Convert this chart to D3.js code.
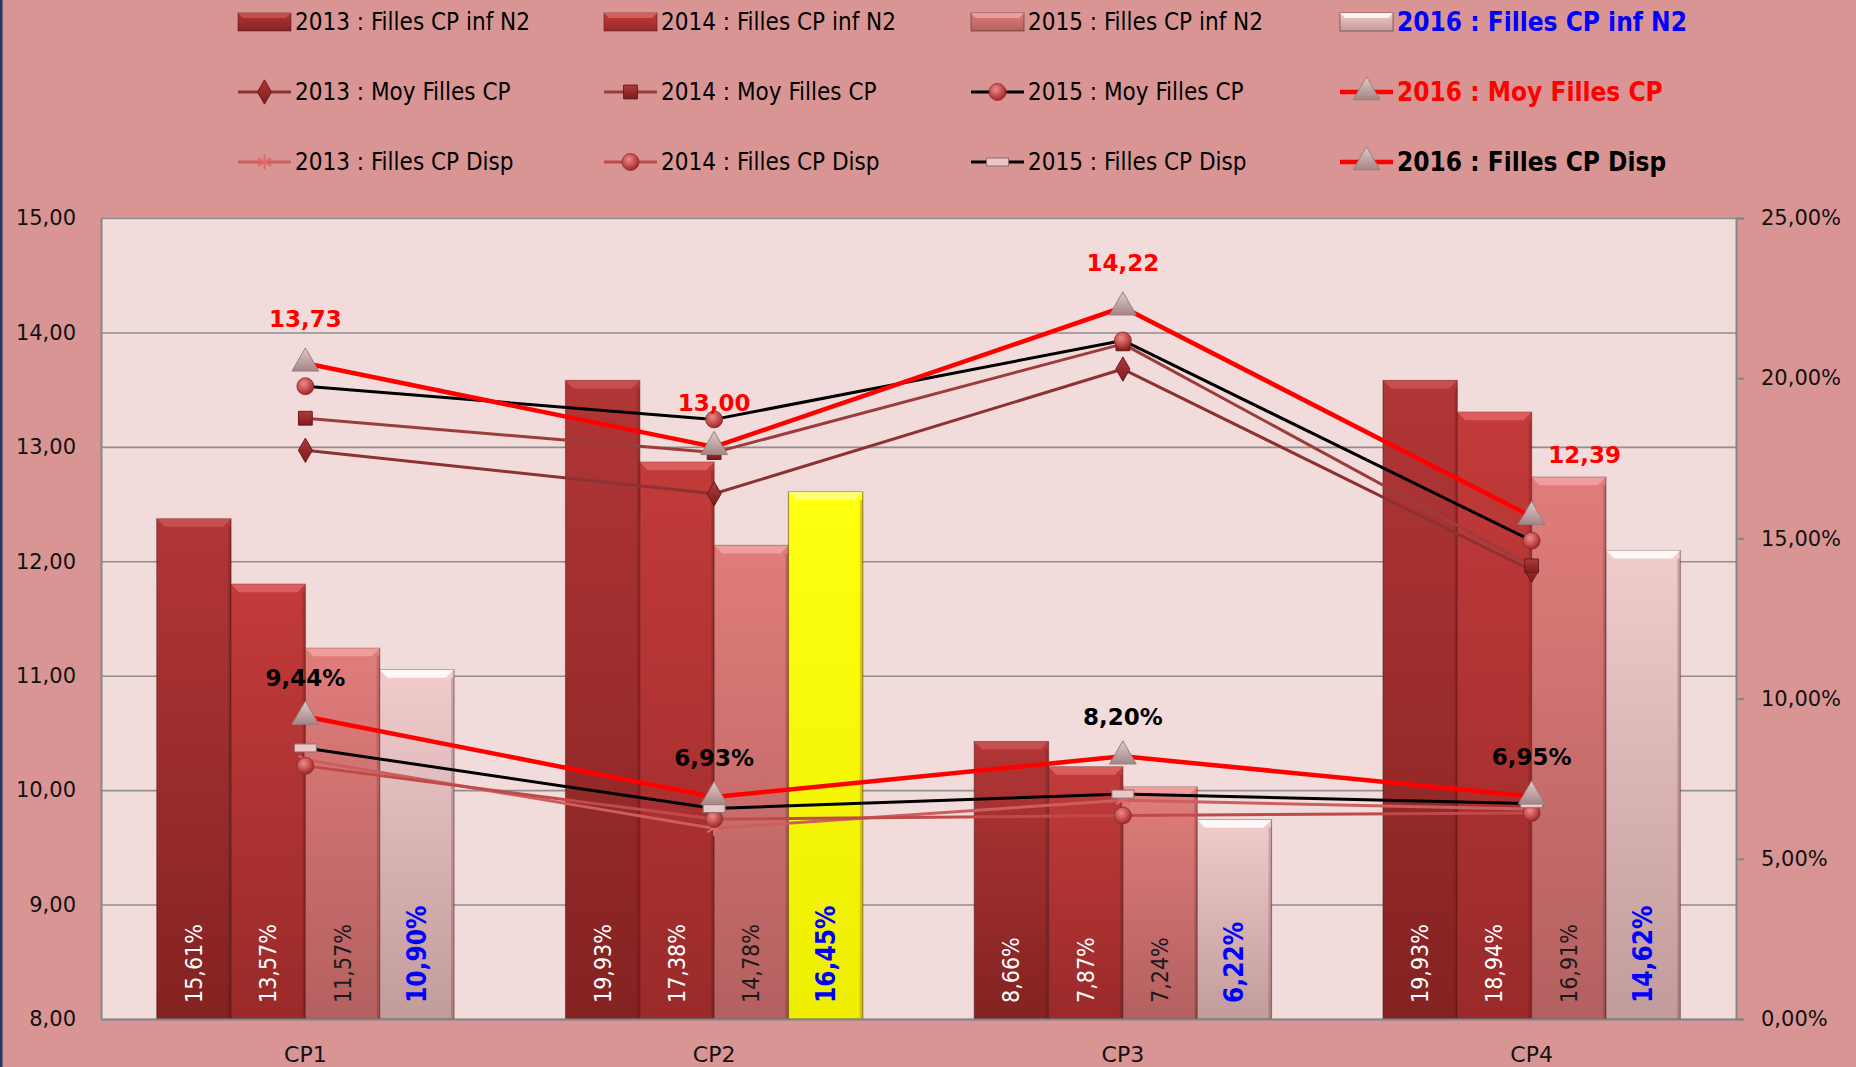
<!DOCTYPE html>
<html>
<head>
<meta charset="utf-8">
<script src="https://cdn.jsdelivr.net/npm/d3@7"></script>
<style>
  body { margin: 0; background: #d99594; overflow: hidden; }
  svg { display: block; }
</style>
</head>
<body>
<svg id="chart" width="1856" height="1067"></svg>
<script>
// ---- data ----
const categories = ["CP1", "CP2", "CP3", "CP4"];
const barYears = ["2013", "2014", "2015", "2016"];

// Filles CP inf N2 (right axis, %)
const infN2_2013 = [15.61, 19.93, 8.66, 19.93];
const infN2_2014 = [13.57, 17.38, 7.87, 18.94];
const infN2_2015 = [11.57, 14.78, 7.24, 16.91];
const infN2_2016 = [10.90, 16.45, 6.22, 14.62];

// Moy Filles CP (left axis)
const moy2013 = [12.97, 12.59, 13.68, 11.92];
const moy2014 = [13.25, 12.95, 13.90, 11.96];
const moy2015 = [13.53, 13.24, 13.93, 12.18];
const moy2016 = [13.73, 13.00, 14.22, 12.39];

// Filles CP Disp (right axis, %)
const disp2013 = [8.09, 5.95, 6.83, 6.55];
const disp2014 = [7.90, 6.24, 6.35, 6.43];
const disp2015 = [8.46, 6.57, 7.02, 6.72];
const disp2016 = [9.44, 6.93, 8.20, 6.95];

const leftTicks = [8, 9, 10, 11, 12, 13, 14, 15];
const rightTicks = [0, 5, 10, 15, 20, 25];

// ---- layout ----
const W = 1856, H = 1067;
const plot = { left: 101, right: 1736, top: 218, bottom: 1019 };
const narrow = "'Liberation Sans Narrow', 'DejaVu Sans Condensed', 'Roboto Condensed', sans-serif";
const verd = "'DejaVu Sans', Verdana, sans-serif";

const svg = d3.select("#chart");
const defs = svg.append("defs");
const loc = d3.formatLocale({ decimal: ",", thousands: " ", grouping: [3], currency: ["", "€"] });
const f2 = loc.format(".2f");
const pct = v => f2(v) + "%";

svg.append("rect").attr("width", W).attr("height", H).attr("fill", "#d99594");
svg.append("rect").attr("x", 0).attr("y", 0).attr("width", 2.5).attr("height", H).attr("fill", "#1f3864");

const x = d3.scaleBand().domain(categories).range([plot.left, plot.right])
  .paddingInner(1.5 / 5.5).paddingOuter(0.75 / 5.5);
const xs = d3.scaleBand().domain(barYears).range([0, x.bandwidth()]);
const yL = d3.scaleLinear().domain([8, 15]).range([plot.bottom, plot.top]);
const yR = d3.scaleLinear().domain([0, 25]).range([plot.bottom, plot.top]);
const cx = c => x(c) + x.bandwidth() / 2;

// gradients
function vgrad(id, top, bottom) {
  const g = defs.append("linearGradient").attr("id", id).attr("x1", 0).attr("y1", 0).attr("x2", 0).attr("y2", 1);
  g.append("stop").attr("offset", "0%").attr("stop-color", top);
  g.append("stop").attr("offset", "100%").attr("stop-color", bottom);
}
function rgrad(id, light, dark) {
  const g = defs.append("radialGradient").attr("id", id).attr("cx", "40%").attr("cy", "35%").attr("r", "65%");
  g.append("stop").attr("offset", "0%").attr("stop-color", light);
  g.append("stop").attr("offset", "100%").attr("stop-color", dark);
}
const barStyle = {
  "2013": { top: "#b23636", bottom: "#842222", bevel: "#c95454", label: "#ffffff", bold: false },
  "2014": { top: "#c23b3a", bottom: "#9a2a2a", bevel: "#e06565", label: "#ffffff", bold: false },
  "2015": { top: "#e07d7b", bottom: "#b46060", bevel: "#f1a3a2", label: "#1a1a1a", bold: false },
  "2016": { top: "#f1cccc", bottom: "#c29b9b", bevel: "#ffffff", label: "#0000ff", bold: true }
};
barYears.forEach(yr => vgrad("bar" + yr, barStyle[yr].top, barStyle[yr].bottom));
vgrad("barYellow", "#ffff10", "#eeee00");
vgrad("tri", "#e2caca", "#a58585");
rgrad("ball", "#ef8a8a", "#a42626");
vgrad("sq", "#b33a3a", "#7a1c1c");

// plot area
svg.append("rect").attr("x", plot.left).attr("y", plot.top)
  .attr("width", plot.right - plot.left).attr("height", plot.bottom - plot.top).attr("fill", "#f2dcdb");

// gridlines
svg.append("g").attr("class", "grid")
  .attr("transform", "translate(" + plot.left + ",0)")
  .call(d3.axisLeft(yL).tickValues(leftTicks).tickSize(-(plot.right - plot.left)).tickFormat(""))
  .call(g => g.select(".domain").remove())
  .call(g => g.selectAll("line").attr("stroke", "#8e8e8e").attr("stroke-width", 1.6));

// ---- bars ----
const barSeries = [
  { year: "2013", values: infN2_2013 },
  { year: "2014", values: infN2_2014 },
  { year: "2015", values: infN2_2015 },
  { year: "2016", values: infN2_2016 }
];
const bev = 8;
const barG = svg.append("g");
barSeries.forEach(s => {
  const st = barStyle[s.year];
  s.values.forEach((v, i) => {
    const c = categories[i];
    const bx = x(c) + xs(s.year), bw = xs.bandwidth();
    const by = yR(v), bh = yR(0) - yR(v);
    const yellow = s.year === "2016" && c === "CP2";
    const g = barG.append("g");
    g.append("rect").attr("x", bx).attr("y", by).attr("width", bw).attr("height", bh)
      .attr("fill", yellow ? "url(#barYellow)" : "url(#bar" + s.year + ")")
      .attr("stroke", "rgba(70,20,20,0.45)").attr("stroke-width", 1.2);
    g.append("path")
      .attr("d", `M${bx},${by}L${bx + bw},${by}L${bx + bw - bev},${by + bev}L${bx + bev},${by + bev}Z`)
      .attr("fill", yellow ? "#ffff88" : st.bevel).attr("opacity", 0.85);
    g.append("rect").attr("x", bx + bw - 3).attr("y", by + bev).attr("width", 3).attr("height", bh - bev)
      .attr("fill", "rgba(60,10,10,0.18)");
    const lx = bx + bw / 2, ly = plot.bottom - 16;
    g.append("text")
      .attr("x", lx).attr("y", ly)
      .attr("transform", `rotate(-90,${lx},${ly})`)
      .attr("text-anchor", "start").attr("dominant-baseline", "central")
      .attr("font-family", narrow)
      .attr("font-size", st.bold ? 26 : 23)
      .attr("font-weight", st.bold ? "bold" : "normal")
      .attr("fill", st.label)
      .text(pct(v));
  });
});

// ---- axes ----
const axL = svg.append("g").attr("transform", "translate(" + plot.left + ",0)")
  .call(d3.axisLeft(yL).tickValues(leftTicks).tickSize(0).tickPadding(25).tickFormat(f2));
axL.select(".domain").attr("stroke", "#868686").attr("stroke-width", 2);
axL.selectAll("text").attr("font-family", verd).attr("font-size", 21).attr("fill", "#111");

const axR = svg.append("g").attr("transform", "translate(" + plot.right + ",0)")
  .call(d3.axisRight(yR).tickValues(rightTicks).tickSize(8).tickSizeOuter(8).tickPadding(17).tickFormat(pct));
axR.select(".domain").attr("stroke", "#868686").attr("stroke-width", 2);
axR.selectAll("line").attr("stroke", "#868686").attr("stroke-width", 2);
axR.selectAll("text").attr("font-family", verd).attr("font-size", 21).attr("fill", "#111");

const axB = svg.append("g").attr("transform", "translate(0," + plot.bottom + ")")
  .call(d3.axisBottom(x).tickSize(0).tickPadding(27));
axB.select(".domain").attr("stroke", "#868686").attr("stroke-width", 2);
axB.selectAll("text").attr("font-family", verd).attr("font-size", 22).attr("fill", "#111");

// ---- markers ----
function marker(g, kind, px, py) {
  if (kind === "diamond") {
    g.append("path").attr("d", d3.symbol(d3.symbolDiamond, 170)()).attr("transform", `translate(${px},${py})`)
      .attr("fill", "url(#sq)").attr("stroke", "#6b1a1a").attr("stroke-width", 1);
  } else if (kind === "square") {
    g.append("path").attr("d", d3.symbol(d3.symbolSquare, 190)()).attr("transform", `translate(${px},${py})`)
      .attr("fill", "url(#sq)").attr("stroke", "#6b1a1a").attr("stroke-width", 1);
  } else if (kind === "ball") {
    g.append("circle").attr("cx", px).attr("cy", py).attr("r", 8.5)
      .attr("fill", "url(#ball)").attr("stroke", "#8a2a2a").attr("stroke-width", 0.8);
  } else if (kind === "triangle") {
    g.append("path").attr("d", d3.symbol(d3.symbolTriangle, 310)()).attr("transform", `translate(${px},${py})`)
      .attr("fill", "url(#tri)").attr("stroke", "#9a7d7d").attr("stroke-width", 1);
  } else if (kind === "star") {
    g.append("path").attr("d", d3.symbol(d3.symbolAsterisk, 170)()).attr("transform", `translate(${px},${py})`)
      .attr("fill", "none").attr("stroke", "#e06a6a").attr("stroke-width", 2);
  } else if (kind === "dash") {
    g.append("rect").attr("x", px - 11).attr("y", py - 4).attr("width", 22).attr("height", 8)
      .attr("fill", "#ecc6c6").attr("stroke", "#8a7070").attr("stroke-width", 1);
  }
}

const lineSeries = [
  { name: "2013 : Moy Filles CP", values: moy2013, scale: yL, color: "#8c3232", width: 3, mark: "diamond" },
  { name: "2014 : Moy Filles CP", values: moy2014, scale: yL, color: "#9c3d3d", width: 3, mark: "square" },
  { name: "2015 : Moy Filles CP", values: moy2015, scale: yL, color: "#000000", width: 3, mark: "ball" },
  { name: "2016 : Moy Filles CP", values: moy2016, scale: yL, color: "#ff0000", width: 4.5, mark: "triangle" },
  { name: "2013 : Filles CP Disp", values: disp2013, scale: yR, color: "#cd5e5e", width: 3, mark: "star" },
  { name: "2014 : Filles CP Disp", values: disp2014, scale: yR, color: "#c04a4a", width: 3, mark: "ball" },
  { name: "2015 : Filles CP Disp", values: disp2015, scale: yR, color: "#000000", width: 3, mark: "dash" },
  { name: "2016 : Filles CP Disp", values: disp2016, scale: yR, color: "#ff0000", width: 4.5, mark: "triangle" }
];
const linesG = svg.append("g");
lineSeries.forEach(s => {
  const line = d3.line().x((d, i) => cx(categories[i])).y(d => s.scale(d));
  linesG.append("path").datum(s.values).attr("d", line)
    .attr("fill", "none").attr("stroke", s.color).attr("stroke-width", s.width).attr("stroke-linejoin", "round");
});
lineSeries.forEach(s => {
  s.values.forEach((v, i) => marker(linesG, s.mark, cx(categories[i]), s.scale(v)));
});

// data labels for 2016 lines
const moyLabelShift = [[0, 0], [0, 0], [0, 0], [53, -18]];
moy2016.forEach((v, i) => {
  svg.append("text")
    .attr("x", cx(categories[i]) + moyLabelShift[i][0])
    .attr("y", yL(v) - 36 + moyLabelShift[i][1])
    .attr("text-anchor", "middle")
    .attr("font-family", verd).attr("font-weight", "bold").attr("font-size", 23)
    .attr("fill", "#ff0000").text(f2(v));
});
disp2016.forEach((v, i) => {
  svg.append("text")
    .attr("x", cx(categories[i]))
    .attr("y", yR(v) - 31)
    .attr("text-anchor", "middle")
    .attr("font-family", verd).attr("font-weight", "bold").attr("font-size", 23)
    .attr("fill", "#000").text(pct(v));
});

// ---- legend ----
const legCols = [238, 604, 971, 1340];
const legRows = [22, 92, 162];
const legend = svg.append("g");
barSeries.forEach((s, j) => {
  const lx = legCols[j], ly = legRows[0];
  const st = barStyle[s.year];
  const g = legend.append("g");
  g.append("rect").attr("x", lx).attr("y", ly - 9).attr("width", 53).attr("height", 18)
    .attr("fill", "url(#bar" + s.year + ")").attr("stroke", "rgba(70,20,20,0.5)").attr("stroke-width", 1);
  g.append("path").attr("d", `M${lx},${ly - 9}L${lx + 53},${ly - 9}L${lx + 48},${ly - 4}L${lx + 5},${ly - 4}Z`)
    .attr("fill", st.bevel).attr("opacity", 0.85);
  const last = j === 3;
  g.append("text").attr("x", lx + 57).attr("y", ly).attr("dominant-baseline", "central")
    .attr("font-family", narrow).attr("font-size", last ? 26 : 24)
    .attr("font-weight", last ? "bold" : "normal")
    .attr("fill", last ? "#0000ff" : "#000").text(s.year + " : Filles CP inf N2");
});
lineSeries.forEach((s, k) => {
  const j = k % 4, r = 1 + Math.floor(k / 4);
  const lx = legCols[j], ly = legRows[r];
  const g = legend.append("g");
  g.append("line").attr("x1", lx).attr("x2", lx + 53).attr("y1", ly).attr("y2", ly)
    .attr("stroke", s.color).attr("stroke-width", s.width);
  marker(g, s.mark, lx + 26.5, ly);
  const last = j === 3;
  g.append("text").attr("x", lx + 57).attr("y", ly).attr("dominant-baseline", "central")
    .attr("font-family", narrow).attr("font-size", last ? 26 : 24)
    .attr("font-weight", last ? "bold" : "normal")
    .attr("fill", last ? (r === 1 ? "#ff0000" : "#000") : "#000").text(s.name);
});
</script>
</body>
</html>
